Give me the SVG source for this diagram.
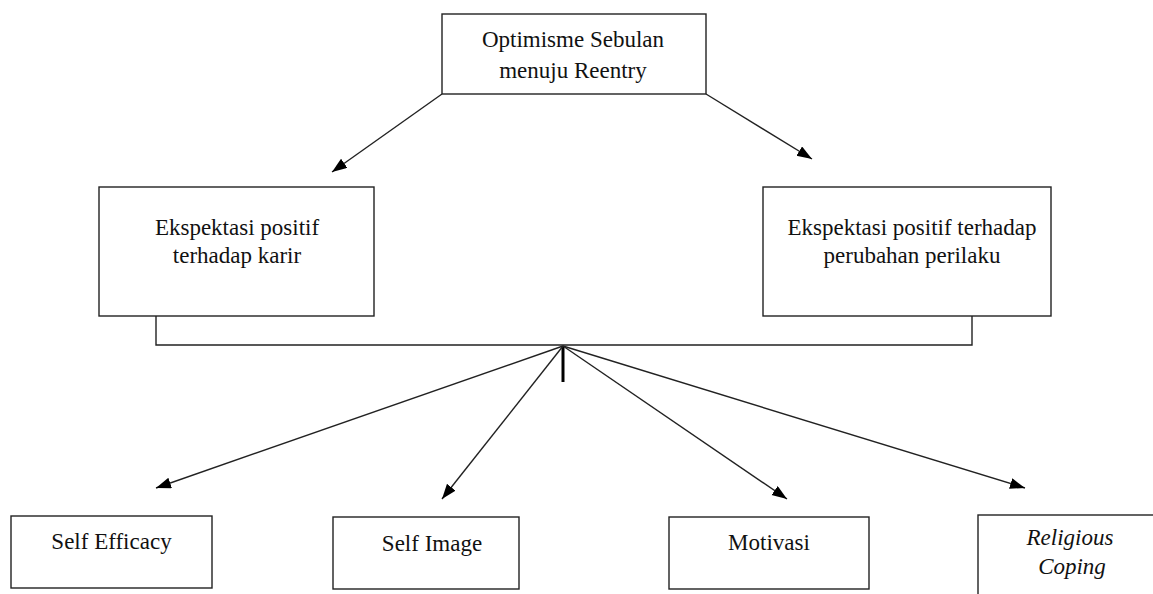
<svg xmlns="http://www.w3.org/2000/svg" width="1153" height="594" viewBox="0 0 1153 594">
<style>
.box{fill:#fff;stroke:#222;stroke-width:1.4}
text{font-family:'Liberation Serif','DejaVu Serif',serif;font-size:23px;fill:#111;text-anchor:middle}
.it{font-style:italic}
.ln{fill:none;stroke:#222;stroke-width:1.4}
</style>
<defs>
<marker id="ah" markerUnits="userSpaceOnUse" markerWidth="16" markerHeight="12" refX="15" refY="5.5" orient="auto">
<path d="M0,0 L15,5.5 L0,11 z" fill="#000"/>
</marker>
</defs>
<rect width="1153" height="594" fill="#fff"/>
<g id="connectors">
<line class="ln" x1="442" y1="94" x2="332" y2="172" marker-end="url(#ah)"/>
<line class="ln" x1="706" y1="94" x2="812" y2="159" marker-end="url(#ah)"/>
<polyline class="ln" points="156,316 156,345 972,345 972,316"/>
<line x1="563" y1="346" x2="563" y2="382" stroke="#000" stroke-width="3"/>
<line class="ln" x1="563" y1="346" x2="156" y2="488" marker-end="url(#ah)"/>
<line class="ln" x1="563" y1="346" x2="442" y2="499" marker-end="url(#ah)"/>
<line class="ln" x1="563" y1="346" x2="787" y2="499" marker-end="url(#ah)"/>
<line class="ln" x1="563" y1="346" x2="1025" y2="488" marker-end="url(#ah)"/>
</g>
<g id="optimisme">
<rect class="box" x="442" y="14" width="264" height="80"/>
<text x="573" y="47">Optimisme Sebulan</text>
<text x="573" y="78">menuju Reentry</text>
</g>
<g id="karir">
<rect class="box" x="99" y="187" width="275" height="129"/>
<text x="237" y="235">Ekspektasi positif</text>
<text x="237" y="263">terhadap karir</text>
</g>
<g id="perilaku">
<rect class="box" x="763" y="187" width="288" height="129"/>
<text x="912" y="235">Ekspektasi positif terhadap</text>
<text x="912" y="263">perubahan perilaku</text>
</g>
<g id="selfefficacy">
<rect class="box" x="11" y="516" width="201" height="72"/>
<text x="111.5" y="549">Self Efficacy</text>
</g>
<g id="selfimage">
<rect class="box" x="333" y="517" width="186" height="72"/>
<text x="432" y="551">Self Image</text>
</g>
<g id="motivasi">
<rect class="box" x="669" y="517" width="200" height="72"/>
<text x="769" y="550">Motivasi</text>
</g>
<g id="religious">
<rect class="box" x="978" y="515" width="190" height="90"/>
<text class="it" x="1070" y="545">Religious</text>
<text class="it" x="1072" y="574">Coping</text>
</g>
</svg>
